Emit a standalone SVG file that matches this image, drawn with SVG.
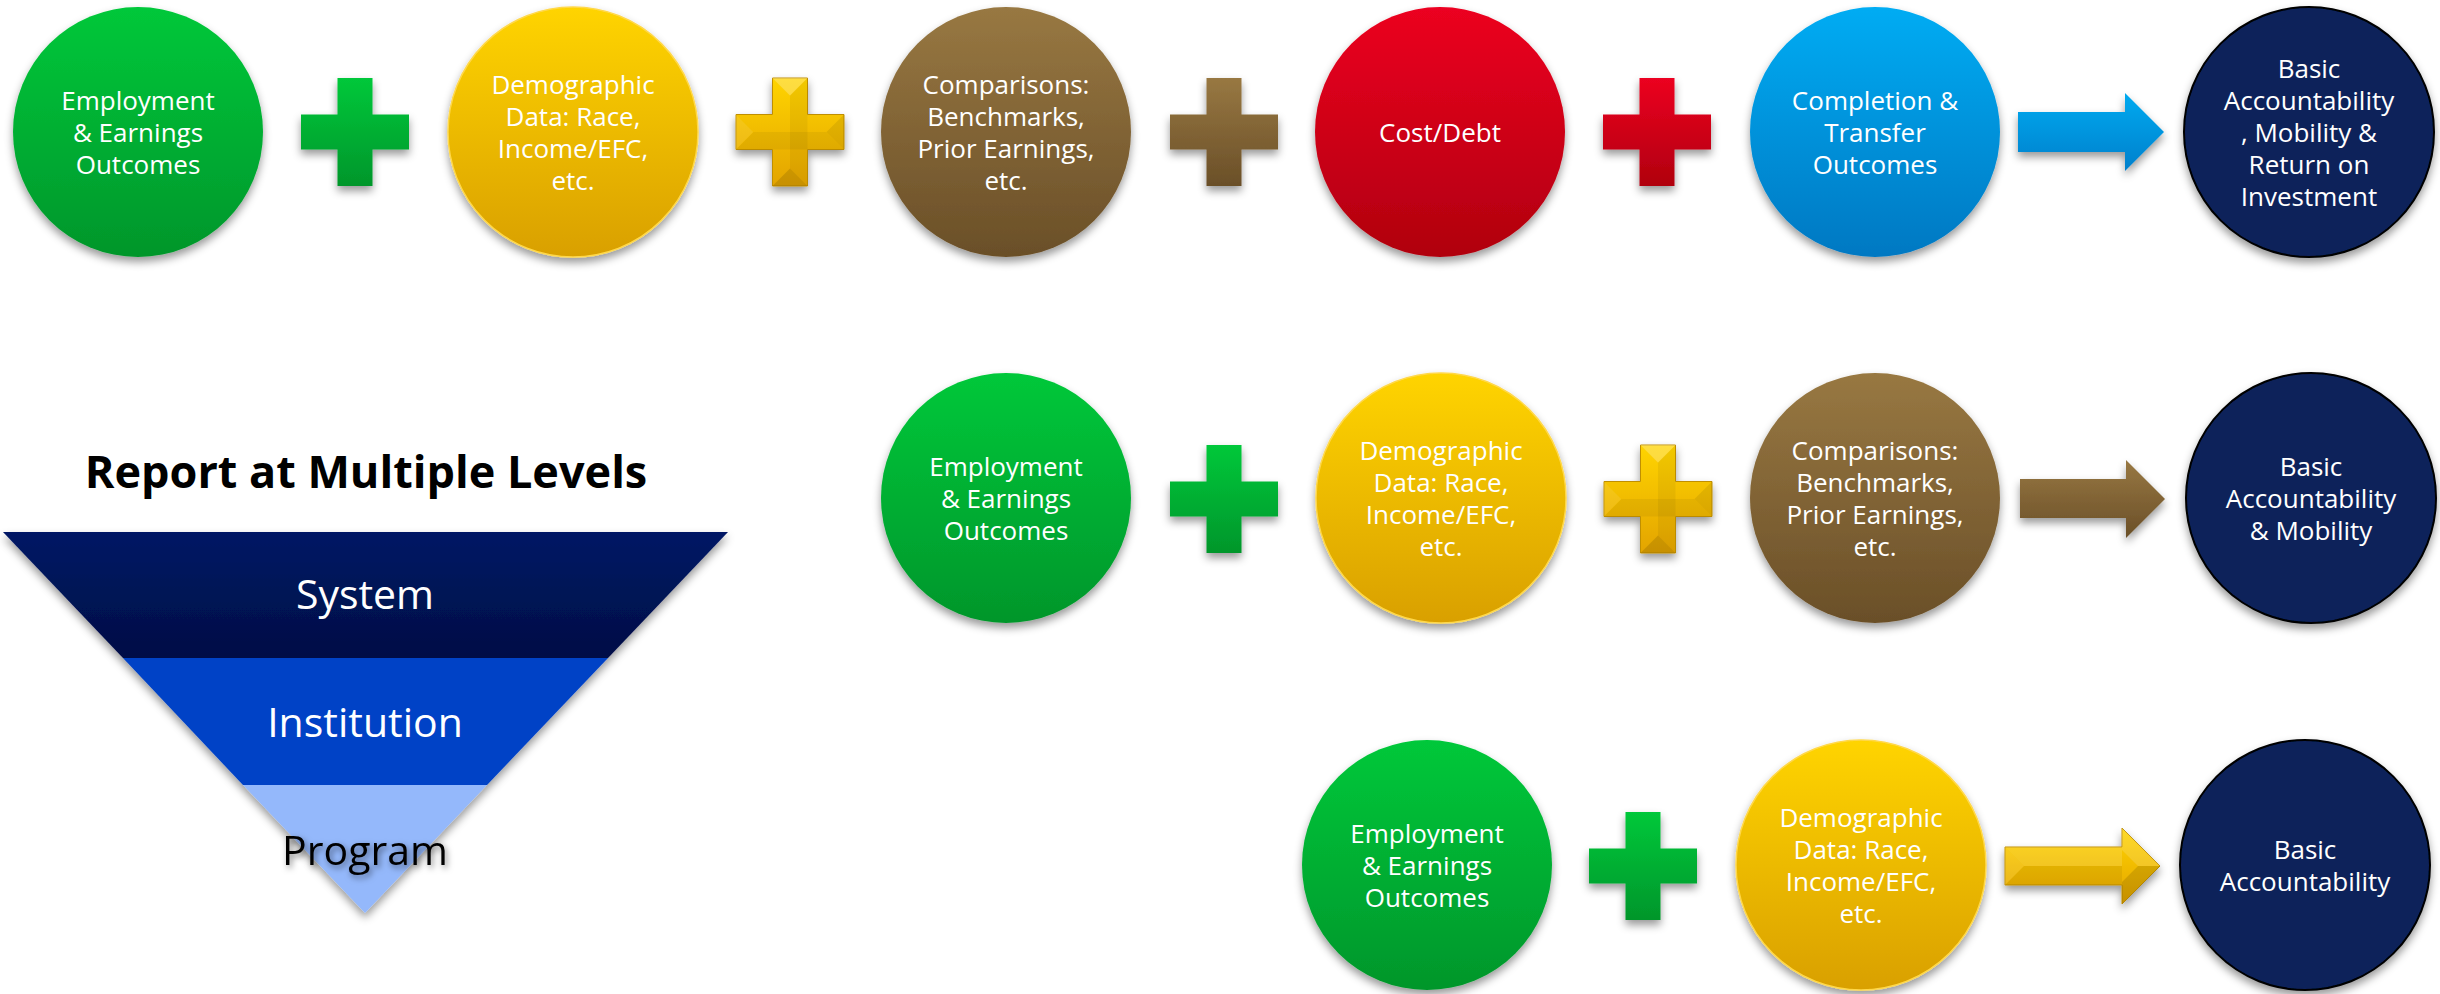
<svg xmlns="http://www.w3.org/2000/svg" width="2440" height="994" viewBox="0 0 2440 994">
<defs>
<style>
.lbl{font-family:"Open Sans","Noto Sans","DejaVu Sans",sans-serif;font-size:26px;fill:#fff;text-anchor:middle}
.lvl{font-family:"Open Sans","Noto Sans","DejaVu Sans",sans-serif;font-size:41px;text-anchor:middle}
.title{font-family:"Open Sans","Noto Sans","DejaVu Sans",sans-serif;font-size:45px;font-weight:bold;fill:#000;text-anchor:middle}
.navy{fill:#0a225a;stroke:#000;stroke-width:2}
.hi{fill:#fff}
.lo{fill:#000}
</style>
<linearGradient id="gGreen" x1="0" y1="0" x2="0" y2="1"><stop offset="0" stop-color="#00c83a"/><stop offset="1" stop-color="#00962b"/></linearGradient>
<linearGradient id="gGold" x1="0" y1="0" x2="0" y2="1"><stop offset="0" stop-color="#ffd400"/><stop offset="1" stop-color="#d9a000"/></linearGradient>
<linearGradient id="gGoldP" x1="0" y1="0" x2="0" y2="1"><stop offset="0" stop-color="#ffd400"/><stop offset="1" stop-color="#e3a400"/></linearGradient>
<linearGradient id="gBrown" x1="0" y1="0" x2="0" y2="1"><stop offset="0" stop-color="#987842"/><stop offset="1" stop-color="#6a4f28"/></linearGradient>
<linearGradient id="gRed" x1="0" y1="0" x2="0" y2="1"><stop offset="0" stop-color="#ec0020"/><stop offset="1" stop-color="#b0000e"/></linearGradient>
<linearGradient id="gBlue" x1="0" y1="0" x2="0" y2="1"><stop offset="0" stop-color="#00acf3"/><stop offset="1" stop-color="#0078c2"/></linearGradient>
<linearGradient id="gBlueA" x1="0" y1="0" x2="0" y2="1"><stop offset="0" stop-color="#00aaf0"/><stop offset="1" stop-color="#0080cc"/></linearGradient>
<linearGradient id="gSys" x1="0" y1="0" x2="0" y2="1"><stop offset="0" stop-color="#031865"/><stop offset="1" stop-color="#010e46"/></linearGradient>
<filter id="sh" x="-20%" y="-20%" width="140%" height="150%"><feDropShadow dx="0" dy="5" stdDeviation="4" flood-color="#000" flood-opacity="0.4"/></filter>
<filter id="tsh" x="-10%" y="-30%" width="120%" height="170%"><feDropShadow dx="2" dy="3" stdDeviation="3" flood-color="#000" flood-opacity="0.5"/></filter>
<path id="plus" d="M-17.5,-54 h35 v36.5 h36.5 v35 h-36.5 v36.5 h-35 v-36.5 h-36.5 v-35 h36.5 z"/>
</defs>
<rect width="2440" height="994" fill="#fff"/>

<!-- Row 1 -->
<g id="r1-employment">
<circle cx="138" cy="132" r="125" fill="url(#gGreen)" filter="url(#sh)"/>
<text class="lbl" x="138" y="110">Employment</text>
<text class="lbl" x="138" y="142">&amp; Earnings</text>
<text class="lbl" x="138" y="174">Outcomes</text>
</g>
<g id="r1-demographic">
<circle cx="573" cy="132" r="125" fill="url(#gGold)" stroke="#ffd84a" stroke-width="1.5" filter="url(#sh)"/>
<text class="lbl" x="573" y="94">Demographic</text>
<text class="lbl" x="573" y="126">Data: Race,</text>
<text class="lbl" x="573" y="158">Income/EFC,</text>
<text class="lbl" x="573" y="190">etc.</text>
</g>
<g id="r1-comparisons">
<circle cx="1006" cy="132" r="125" fill="url(#gBrown)" filter="url(#sh)"/>
<text class="lbl" x="1006" y="94">Comparisons:</text>
<text class="lbl" x="1006" y="126">Benchmarks,</text>
<text class="lbl" x="1006" y="158">Prior Earnings,</text>
<text class="lbl" x="1006" y="190">etc.</text>
</g>
<g id="r1-cost">
<circle cx="1440" cy="132" r="125" fill="url(#gRed)" filter="url(#sh)"/>
<text class="lbl" x="1440" y="142">Cost/Debt</text>
</g>
<g id="r1-completion">
<circle cx="1875" cy="132" r="125" fill="url(#gBlue)" filter="url(#sh)"/>
<text class="lbl" x="1875" y="110">Completion &amp;</text>
<text class="lbl" x="1875" y="142">Transfer</text>
<text class="lbl" x="1875" y="174">Outcomes</text>
</g>
<g id="r1-result">
<circle class="navy" cx="2309" cy="132" r="125" filter="url(#sh)"/>
<text class="lbl" x="2309" y="78">Basic</text>
<text class="lbl" x="2309" y="110">Accountability</text>
<text class="lbl" x="2309" y="142">, Mobility &amp;</text>
<text class="lbl" x="2309" y="174">Return on</text>
<text class="lbl" x="2309" y="206">Investment</text>
</g>

<!-- Row 2 -->
<g id="r2-employment">
<circle cx="1006" cy="498" r="125" fill="url(#gGreen)" filter="url(#sh)"/>
<text class="lbl" x="1006" y="476">Employment</text>
<text class="lbl" x="1006" y="508">&amp; Earnings</text>
<text class="lbl" x="1006" y="540">Outcomes</text>
</g>
<g id="r2-demographic">
<circle cx="1441" cy="498" r="125" fill="url(#gGold)" stroke="#ffd84a" stroke-width="1.5" filter="url(#sh)"/>
<text class="lbl" x="1441" y="460">Demographic</text>
<text class="lbl" x="1441" y="492">Data: Race,</text>
<text class="lbl" x="1441" y="524">Income/EFC,</text>
<text class="lbl" x="1441" y="556">etc.</text>
</g>
<g id="r2-comparisons">
<circle cx="1875" cy="498" r="125" fill="url(#gBrown)" filter="url(#sh)"/>
<text class="lbl" x="1875" y="460">Comparisons:</text>
<text class="lbl" x="1875" y="492">Benchmarks,</text>
<text class="lbl" x="1875" y="524">Prior Earnings,</text>
<text class="lbl" x="1875" y="556">etc.</text>
</g>
<g id="r2-result">
<circle class="navy" cx="2311" cy="498" r="125" filter="url(#sh)"/>
<text class="lbl" x="2311" y="476">Basic</text>
<text class="lbl" x="2311" y="508">Accountability</text>
<text class="lbl" x="2311" y="540">&amp; Mobility</text>
</g>

<!-- Row 3 -->
<g id="r3-employment">
<circle cx="1427" cy="865" r="125" fill="url(#gGreen)" filter="url(#sh)"/>
<text class="lbl" x="1427" y="843">Employment</text>
<text class="lbl" x="1427" y="875">&amp; Earnings</text>
<text class="lbl" x="1427" y="907">Outcomes</text>
</g>
<g id="r3-demographic">
<circle cx="1861" cy="865" r="125" fill="url(#gGold)" stroke="#ffd84a" stroke-width="1.5" filter="url(#sh)"/>
<text class="lbl" x="1861" y="827">Demographic</text>
<text class="lbl" x="1861" y="859">Data: Race,</text>
<text class="lbl" x="1861" y="891">Income/EFC,</text>
<text class="lbl" x="1861" y="923">etc.</text>
</g>
<g id="r3-result">
<circle class="navy" cx="2305" cy="865" r="125" filter="url(#sh)"/>
<text class="lbl" x="2305" y="859">Basic</text>
<text class="lbl" x="2305" y="891">Accountability</text>
</g>

<!-- Funnel -->
<g id="levels">
<text class="title" x="366" y="488">Report at Multiple Levels</text>
<g filter="url(#sh)">
<polygon points="3,532 728,532 608,658 123,658" fill="url(#gSys)"/>
<polygon points="123,658 608,658 487,785 243,785" fill="#0043c6"/>
<polygon points="243,785 487,785 365,913" fill="#94b8fb"/>
</g>
<text class="lvl" x="365" y="609" fill="#fff">System</text>
<text class="lvl" x="365" y="737" fill="#fff">Institution</text>
<text class="lvl" x="365" y="865" fill="#000" filter="url(#tsh)">Program</text>
</g>

<!-- Connectors: plus signs and arrows -->
<g id="connectors">
<!-- row 1 -->
<use href="#plus" x="355" y="132" fill="url(#gGreen)" filter="url(#sh)"/>
<g transform="translate(790,132)" filter="url(#sh)">
<use href="#plus" fill="url(#gGoldP)" stroke="#c08f00" stroke-width="1"/>
<polygon class="hi" opacity="0.25" points="-17.5,-54 17.5,-54 0,-36.5"/>
<polygon class="hi" opacity="0.08" points="-54,-17.5 -54,17.5 -36.5,0"/>
<polygon class="lo" opacity="0.12" points="-17.5,54 17.5,54 0,36.5"/>
<polygon class="lo" opacity="0.08" points="54,-17.5 54,17.5 36.5,0"/>
<polygon class="lo" opacity="0.05" points="-54,17.5 -36.5,0 36.5,0 54,17.5"/>
<polygon class="lo" opacity="0.05" points="17.5,-54 0,-36.5 0,36.5 17.5,54"/>
</g>
<use href="#plus" x="1224" y="132" fill="url(#gBrown)" filter="url(#sh)"/>
<use href="#plus" x="1657" y="132" fill="url(#gRed)" filter="url(#sh)"/>
<path d="M2018,112 H2125 V93 L2164,132 L2125,171 V152 H2018 Z" fill="url(#gBlueA)" filter="url(#sh)"/>
<!-- row 2 -->
<use href="#plus" x="1224" y="499" fill="url(#gGreen)" filter="url(#sh)"/>
<g transform="translate(1658,499)" filter="url(#sh)">
<use href="#plus" fill="url(#gGoldP)" stroke="#c08f00" stroke-width="1"/>
<polygon class="hi" opacity="0.25" points="-17.5,-54 17.5,-54 0,-36.5"/>
<polygon class="hi" opacity="0.08" points="-54,-17.5 -54,17.5 -36.5,0"/>
<polygon class="lo" opacity="0.12" points="-17.5,54 17.5,54 0,36.5"/>
<polygon class="lo" opacity="0.08" points="54,-17.5 54,17.5 36.5,0"/>
<polygon class="lo" opacity="0.05" points="-54,17.5 -36.5,0 36.5,0 54,17.5"/>
<polygon class="lo" opacity="0.05" points="17.5,-54 0,-36.5 0,36.5 17.5,54"/>
</g>
<path d="M2020,479 H2126 V460 L2165,499 L2126,538 V518 H2020 Z" fill="url(#gBrown)" filter="url(#sh)"/>
<!-- row 3 -->
<use href="#plus" x="1643" y="866" fill="url(#gGreen)" filter="url(#sh)"/>
<g filter="url(#sh)">
<path d="M2005,847 H2122 V828 L2160,866 L2122,904 V885 H2005 Z" fill="url(#gGoldP)" stroke="#c08f00" stroke-width="1"/>
<polygon class="hi" opacity="0.14" points="2005,847 2122,847 2122,866 2024,866"/>
<polygon class="lo" opacity="0.06" points="2005,885 2122,885 2122,866 2024,866"/>
<polygon class="hi" opacity="0.1" points="2005,847 2024,866 2005,885"/>
<polygon class="hi" opacity="0.15" points="2122,828 2160,866 2138,866 2122,850"/>
<polygon class="lo" opacity="0.12" points="2122,904 2160,866 2138,866 2122,882"/>
</g>
</g>
</svg>
